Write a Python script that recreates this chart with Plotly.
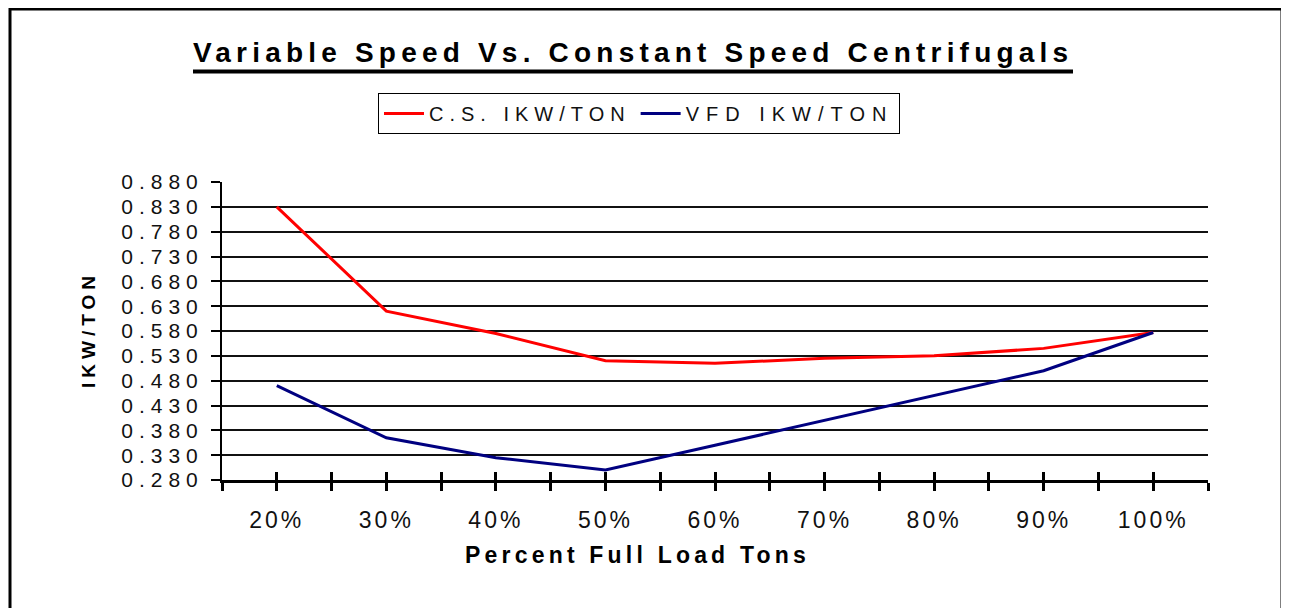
import plotly.graph_objects as go

# ---- data ----
categories = ["20%", "30%", "40%", "50%", "60%", "70%", "80%", "90%", "100%"]
cs_ikw_ton = [0.83, 0.62, 0.575, 0.52, 0.515, 0.525, 0.53, 0.545, 0.577]
vfd_ikw_ton = [0.47, 0.365, 0.325, 0.30, 0.35, 0.40, 0.45, 0.50, 0.577]
y_ticks = [0.28, 0.33, 0.38, 0.43, 0.48, 0.53, 0.58, 0.63, 0.68, 0.73, 0.78, 0.83, 0.88]

FONT = "Liberation Sans, Arial, sans-serif"


def spaced(text, px):
    return f"<span style='letter-spacing:{px}px'>{text}</span>"


x_pos = list(range(len(categories)))
# tick marks at category centres and boundaries
tick_pos = [i * 0.5 - 0.5 for i in range(2 * len(categories) + 1)]
tick_txt = []
for t in tick_pos:
    if abs(t - round(t)) < 1e-9:
        tick_txt.append(spaced(categories[int(round(t))], 3))
    else:
        tick_txt.append("")

fig = go.Figure()
fig.add_trace(go.Scatter(x=x_pos, y=cs_ikw_ton, mode="lines", name=spaced("C.S. IKW/TON", 6),
                         line=dict(color="#FF0000", width=3)))
fig.add_trace(go.Scatter(x=x_pos, y=vfd_ikw_ton, mode="lines", name=spaced("VFD IKW/TON", 7),
                         line=dict(color="#000080", width=3)))

OFF = 8  # page body margin
W, H = 1281, 600
L, T = 222 - OFF, 182 - OFF
PW, PH = 986, 298
R, B = W - L - PW, H - T - PH


def px(x):  # page x -> paper
    return (x - OFF - L) / PW


def py(y):  # page y -> paper
    return (T + PH - (y - OFF)) / PH


fig.update_layout(
    width=W, height=H,
    margin=dict(l=L, r=R, t=T, b=B, pad=0),
    paper_bgcolor="white", plot_bgcolor="white",
    font=dict(family=FONT, color="#000"),
    showlegend=True,
    legend=dict(orientation="h", x=px(639), xanchor="center", y=py(93), yanchor="top",
                bordercolor="#000", borderwidth=1, bgcolor="white",
                font=dict(family=FONT, size=20, color="#111"),
                itemwidth=40, tracegroupgap=0),
    xaxis=dict(range=[-0.5, len(categories) - 0.5], tickmode="array", tickvals=tick_pos,
               ticktext=tick_txt, ticks="outside", ticklen=8, tickwidth=2.5, tickcolor="#000",
               showline=True, linecolor="#000", linewidth=3, showgrid=False, zeroline=False,
               tickfont=dict(family=FONT, size=23, color="#111"), ticklabelstandoff=9,
               fixedrange=True),
    xaxis2=dict(overlaying="x", matches="x", anchor="y", side="bottom", tickmode="array",
                tickvals=tick_pos, ticks="inside", ticklen=8, tickwidth=2.5, tickcolor="#000",
                showticklabels=False, showline=False, showgrid=False, zeroline=False),
    yaxis=dict(range=[y_ticks[0], y_ticks[-1]], tickmode="array", tickvals=y_ticks,
               ticktext=[spaced(f"{v:.3f}", 6) for v in y_ticks],
               ticks="outside", ticklen=9, tickwidth=2, tickcolor="#000",
               showline=True, linecolor="#000", linewidth=2, showgrid=False, zeroline=False,
               tickfont=dict(family=FONT, size=21, color="#111"), ticklabelstandoff=3,
               minor=dict(tickmode="array", tickvals=y_ticks[1:-1], showgrid=True,
                          gridcolor="#111", gridwidth=1.6, ticks=""),
               fixedrange=True),
    annotations=[
        dict(text=spaced("Variable Speed Vs. Constant Speed Centrifugals", 5.2),
             xref="paper", yref="paper", x=px(633), y=py(52), xanchor="center", yanchor="middle",
             showarrow=False, font=dict(family=FONT, size=28, color="#000", weight="bold")),
        dict(text=spaced("IKW/TON", 5), xref="paper", yref="paper", x=px(88), y=py(330),
             textangle=-90, xanchor="center", yanchor="middle", showarrow=False,
             font=dict(family=FONT, size=19, color="#000", weight="bold")),
        dict(text=spaced("Percent Full Load Tons", 4.2), xref="paper", yref="paper", x=px(637),
             y=py(555), xanchor="center", yanchor="middle", showarrow=False,
             font=dict(family=FONT, size=23, color="#000", weight="bold")),
    ],
    shapes=[
        # title underline
        dict(type="line", xref="paper", yref="paper", x0=px(193), x1=px(1073),
             y0=py(71.5), y1=py(71.5), line=dict(color="#000", width=4)),
        # chart-area frame
        dict(type="rect", xref="paper", yref="paper", x0=px(10), x1=px(1282),
             y0=py(640), y1=py(9), line=dict(color="#000", width=3), layer="below"),
    ],
)
fig.add_trace(go.Scatter(x=[None], y=[None], xaxis="x2", showlegend=False, hoverinfo="skip"))

fig.write_html("out.html")
